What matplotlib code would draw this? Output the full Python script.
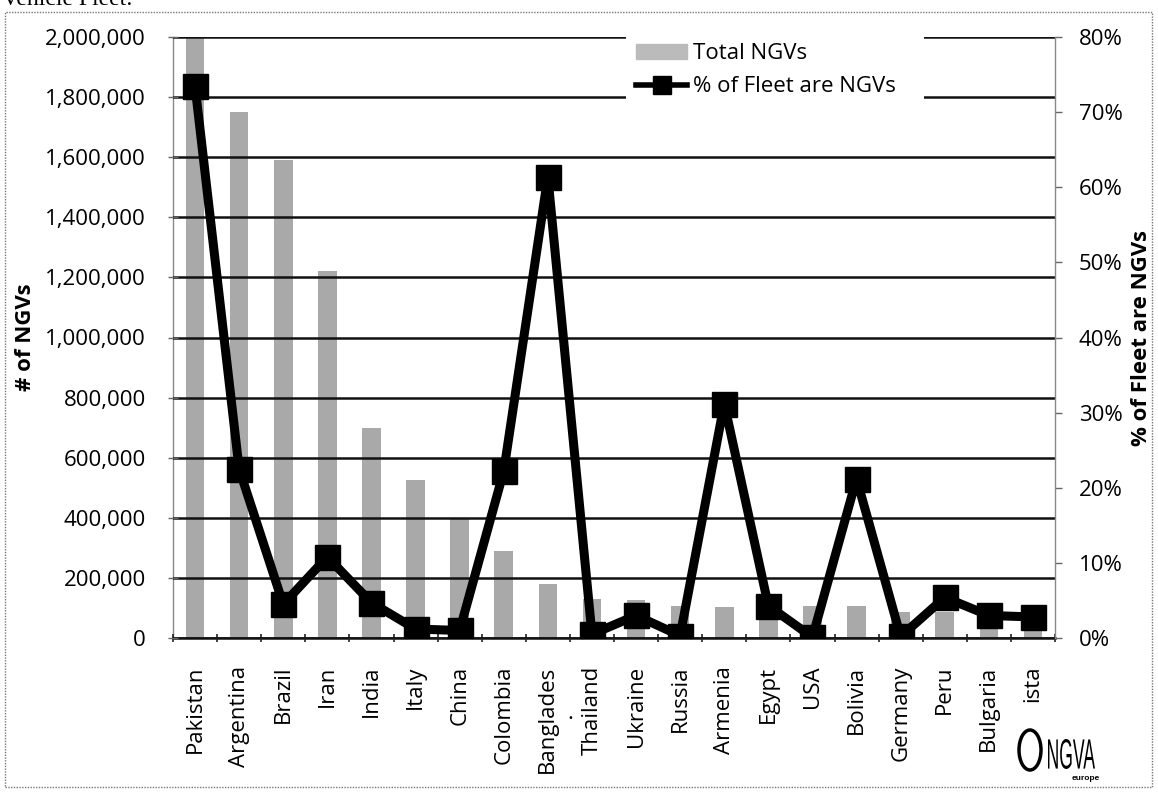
import matplotlib
matplotlib.use('Agg')
import matplotlib.pyplot as plt
import numpy as np
from matplotlib.ticker import FuncFormatter, FixedLocator
from matplotlib.patches import Rectangle, Ellipse, PathPatch
from matplotlib.lines import Line2D
from matplotlib.textpath import TextPath
from matplotlib.font_manager import FontProperties
from matplotlib.transforms import Affine2D, IdentityTransform

countries = ['Pakistan', 'Argentina', 'Brazil', 'Iran', 'India', 'Italy', 'China',
             'Colombia', 'Banglades', 'Thailand', 'Ukraine', 'Russia', 'Armenia',
             'Egypt', 'USA', 'Bolivia', 'Germany', 'Peru', 'Bulgaria', 'ista']
total_ngvs = [2000000, 1750000, 1590000, 1220000, 700000, 525000, 400000,
              290000, 180000, 130000, 125000, 108000, 103000,
              103000, 105000, 105000, 85000, 85000, 60000, 47000]
pct_fleet = [73.5, 22.5, 4.5, 10.8, 4.7, 1.2, 1.0,
             22.2, 61.4, 0.5, 3.0, 0.3, 31.2,
             4.3, 0.1, 21.2, 0.2, 5.4, 3.0, 2.8]
left_ticks = list(range(0, 2000001, 200000))
right_ticks = list(range(0, 81, 10))

plt.rcParams['font.family'] = ['Open Sans', 'DejaVu Sans']
FS = 16

W, H = 1158, 792
fig = plt.figure(figsize=(W / 100, H / 100), dpi=100)
L, R, T, B = 173, 1055, 37, 638
ax = fig.add_axes([L / W, 1 - B / H, (R - L) / W, (B - T) / H])

x = np.arange(len(countries))
ax.bar(x, total_ngvs, width=0.42, color='#a9a9a9', zorder=1)
ax.set_xlim(-0.5, len(countries) - 0.5)
ax.set_ylim(0, 2000000)
ax.yaxis.set_major_locator(FixedLocator(left_ticks))
ax.yaxis.set_major_formatter(FuncFormatter(lambda v, p: f'{int(v):,}'))
ax.grid(axis='y', color='#111111', lw=1.8, zorder=2)
ax.set_axisbelow(False)

ax.set_xticks(x)
ax.set_xticklabels(countries, rotation=90, fontsize=FS)
ax.set_xticks(np.arange(-0.5, len(countries), 1.0), minor=True)
ax.tick_params(axis='x', which='major', length=0, pad=20)
ax.tick_params(axis='x', which='minor', length=6, width=1.2, direction='inout', color='#222222')
ax.tick_params(axis='y', which='major', length=7, width=1, direction='inout',
               color='#666666', labelsize=FS, pad=16)

ax.spines['top'].set_visible(False)
ax.spines['left'].set_color('#888888')
ax.spines['left'].set_linewidth(1)
ax.spines['right'].set_visible(False)
ax.spines['bottom'].set_color('#111111')
ax.spines['bottom'].set_linewidth(1.8)

ax.set_ylabel('# of NGVs', fontsize=FS, fontweight='bold')
ax.yaxis.set_label_coords((36 - L) / (R - L), 0.5)

# Bangladesh wrapped remnant
ax.text(8.5, -0.135, '.', transform=ax.get_xaxis_transform(), fontsize=FS,
        ha='center', va='baseline')

ax2 = ax.twinx()
ax2.plot(x, pct_fleet, color='black', lw=6.5, marker='s', ms=18, zorder=5)
ax2.set_ylim(0, 80)
ax2.yaxis.set_major_locator(FixedLocator(right_ticks))
ax2.yaxis.set_major_formatter(FuncFormatter(lambda v, p: f'{int(v)}%'))
ax2.tick_params(axis='y', length=5, width=1, direction='out', color='#666666',
                labelsize=FS, pad=12)
for s in ['top', 'left', 'bottom']:
    ax2.spines[s].set_visible(False)
ax2.spines['right'].set_color('#888888')
ax2.spines['right'].set_linewidth(1)
ax2.set_ylabel('% of Fleet are NGVs', fontsize=FS, fontweight='bold', rotation=90)
ax2.yaxis.set_label_coords((1131 - L) / (R - L), 0.5)

handles = [Rectangle((0, 0), 1, 1, color='#bbbbbb'),
           Line2D([], [], color='black', lw=4, marker='s', ms=13)]
leg = ax2.legend(handles, ['Total NGVs', '% of Fleet are NGVs'],
                 loc='upper left', bbox_to_anchor=(615 / W, 1 - 22 / H, (935 - 615) / W, 0.0),
                 mode='expand',
                 bbox_transform=fig.transFigure, fontsize=FS, frameon=True,
                 framealpha=1, edgecolor='none', facecolor='white',
                 handlelength=2.3, labelspacing=0.55, borderpad=0.45,
                 handletextpad=0.25, fancybox=False)

# outer frame
fig.patches.append(Rectangle((5 / W, 5 / H), (1152 - 5) / W, (792 - 12 - 5) / H,
                             transform=fig.transFigure, fill=False,
                             edgecolor='#777777', lw=1.0, ls=(0, (1, 1))))

# cut-off heading (partly outside the page, as in the reference)
fig.text(2 / W, 1 - 5 / H, 'Vehicle Fleet:', fontsize=17,
         family=['Liberation Serif', 'DejaVu Serif'], va='baseline', ha='left')

# NGVA logo
tp = TextPath((0, 0), 'NGVA', size=30, prop=FontProperties(family='Liberation Sans'))
bb = tp.get_extents()
sx = 47 / bb.width
sy = 30 / bb.height
tr = Affine2D().translate(-bb.x0, -bb.y0).scale(sx, sy).translate(1048, H - 769)
fig.patches.append(PathPatch(tr.transform_path(tp), facecolor='black', edgecolor='none',
                             transform=IdentityTransform()))
fig.patches.append(Ellipse((1030 / W, 1 - 750 / H), 22 / W, 40 / H, transform=fig.transFigure,
                           fill=False, edgecolor='black', lw=2.5))
fig.text(1086 / W, 1 - 778 / H, 'europe', fontsize=6, fontweight='bold',
         ha='center', va='center', family=['Liberation Sans', 'DejaVu Sans'])

fig.savefig('out.png', dpi=100)
